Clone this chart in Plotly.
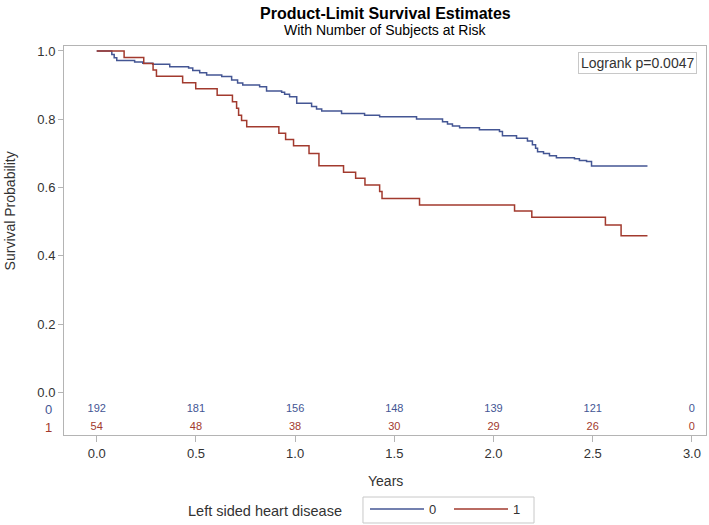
import plotly.graph_objects as go

# ---- data ----
group_names = ["0", "1"]
blue_t = [0, 0.076, 0.088, 0.101, 0.191, 0.232, 0.282, 0.368, 0.463, 0.484, 0.519, 0.554, 0.630, 0.680,
          0.710, 0.736, 0.821, 0.856, 0.932, 0.947, 0.972, 1.008, 1.083, 1.108, 1.134, 1.234, 1.350, 1.426,
          1.612, 1.743, 1.768, 1.793, 1.829, 1.929, 2.030, 2.045, 2.116, 2.171, 2.196, 2.212, 2.222, 2.252,
          2.282, 2.317, 2.408, 2.433, 2.469, 2.494, 2.776]
blue_s = [1.0, 0.990, 0.980, 0.972, 0.968, 0.964, 0.961, 0.954, 0.950, 0.943, 0.936, 0.930, 0.925, 0.915,
          0.906, 0.900, 0.895, 0.883, 0.879, 0.873, 0.866, 0.847, 0.837, 0.830, 0.824, 0.817, 0.812, 0.807,
          0.801, 0.793, 0.786, 0.780, 0.775, 0.769, 0.764, 0.752, 0.744, 0.736, 0.725, 0.715, 0.705, 0.700,
          0.693, 0.687, 0.684, 0.679, 0.676, 0.663, 0.663]
red_t = [0, 0.138, 0.237, 0.284, 0.301, 0.433, 0.499, 0.607, 0.684, 0.705, 0.715, 0.730, 0.756, 0.918,
         0.952, 0.992, 1.070, 1.120, 1.244, 1.305, 1.352, 1.426, 1.438, 1.627, 2.106, 2.193, 2.564, 2.643, 2.776]
red_s = [1.0, 0.981, 0.963, 0.944, 0.926, 0.907, 0.889, 0.870, 0.851, 0.832, 0.812, 0.796, 0.778, 0.759,
         0.741, 0.722, 0.700, 0.664, 0.645, 0.627, 0.607, 0.588, 0.568, 0.549, 0.531, 0.513, 0.490, 0.459, 0.459]
risk_times = [0, 0.5, 1.0, 1.5, 2.0, 2.5, 3.0]
risk_0 = [192, 181, 156, 148, 139, 121, 0]
risk_1 = [54, 48, 38, 30, 29, 26, 0]
x_ticks = [0, 0.5, 1.0, 1.5, 2.0, 2.5, 3.0]
y_ticks = [0, 0.2, 0.4, 0.6, 0.8, 1.0]

BLUE = "#445694"
RED = "#A23A2E"
FONT = "Liberation Sans, Arial, sans-serif"
TXT = "#333333"
GRID = "#b4b4b4"

fig = go.Figure()
fig.add_trace(go.Scatter(x=blue_t, y=blue_s, mode="lines", line=dict(color=BLUE, width=1.5, shape="hv"),
                         name=group_names[0]))
fig.add_trace(go.Scatter(x=red_t, y=red_s, mode="lines", line=dict(color=RED, width=1.5, shape="hv"),
                         name=group_names[1]))

# at-risk rows
fig.add_trace(go.Scatter(x=risk_times, y=[-0.049] * len(risk_times), mode="text",
                         text=[str(v) for v in risk_0], textfont=dict(color=BLUE, size=11, family=FONT),
                         showlegend=False, hoverinfo="skip", cliponaxis=False))
fig.add_trace(go.Scatter(x=risk_times, y=[-0.102] * len(risk_times), mode="text",
                         text=[str(v) for v in risk_1], textfont=dict(color=RED, size=11, family=FONT),
                         showlegend=False, hoverinfo="skip", cliponaxis=False))

annotations = [
    dict(text="<b>Product-Limit Survival Estimates</b>", xref="paper", yref="paper", x=0.5, y=1.0848,
         xanchor="center", yanchor="middle", showarrow=False, font=dict(size=16, color="black", family=FONT)),
    dict(text="With Number of Subjects at Risk", xref="paper", yref="paper", x=0.5, y=1.0411,
         xanchor="center", yanchor="middle", showarrow=False, font=dict(size=14, color="black", family=FONT)),
    dict(text="Survival Probability", xref="paper", yref="y", x=0, y=0.53, xshift=-54, textangle=-90,
         xanchor="center", yanchor="middle", showarrow=False, font=dict(size=14, color=TXT, family=FONT)),
    dict(text="Years", xref="paper", yref="paper", x=0.5, y=-0.1183,
         xanchor="center", yanchor="middle", showarrow=False, font=dict(size=14, color=TXT, family=FONT)),
    dict(text="Logrank p=0.0047", xref="paper", yref="paper", x=1, y=1, xshift=-9, yshift=-6,
         xanchor="right", yanchor="top", showarrow=False, bordercolor="#c8c8c8", borderwidth=1, borderpad=2,
         bgcolor="white", font=dict(size=14, color=TXT, family=FONT)),
    dict(text=group_names[0], xref="paper", yref="y", x=0, y=-0.049, xshift=-16, xanchor="center",
         yanchor="middle", showarrow=False, font=dict(size=13, color=BLUE, family=FONT)),
    dict(text=group_names[1], xref="paper", yref="y", x=0, y=-0.102, xshift=-16, xanchor="center",
         yanchor="middle", showarrow=False, font=dict(size=13, color=RED, family=FONT)),
    dict(text="Left sided heart disease", xref="paper", yref="paper", x=0.3128, y=-0.1954,
         xanchor="center", yanchor="middle", showarrow=False, font=dict(size=14.5, color=TXT, family=FONT)),
]

# frame around the legend entries
shapes = [
    dict(type="rect", xref="paper", yref="paper", x0=0.4657, x1=0.7321, y0=-0.2262, y1=-0.1594,
         line=dict(color="#c8c8c8", width=1), fillcolor="rgba(0,0,0,0)", layer="below"),
]

fig.update_layout(
    width=709, height=525,
    margin=dict(l=64, r=3, t=46, b=90),
    paper_bgcolor="white", plot_bgcolor="white",
    font=dict(family=FONT, color=TXT),
    annotations=annotations,
    shapes=shapes,
    showlegend=True,
    legend=dict(orientation="h", xref="container", yref="container", x=365 / 709, xanchor="left",
                y=1 - 494 / 525, yanchor="top",
                borderwidth=0, font=dict(size=13, color=TXT, family=FONT),
                itemwidth=54, entrywidth=15, bgcolor="rgba(0,0,0,0)"),
)
fig.update_xaxes(range=[-0.165, 3.071], tickvals=x_ticks, ticktext=[f"{v:.1f}" for v in x_ticks],
                 ticks="outside", ticklen=6, tickcolor=GRID, showline=True, linecolor=GRID, mirror=True,
                 showgrid=False, zeroline=False, tickfont=dict(size=13, color=TXT), automargin=False)
fig.update_yaxes(range=[-0.1251, 1.0146], tickvals=y_ticks, ticktext=[f"{v:.1f}" for v in y_ticks],
                 ticks="outside", ticklen=5, tickcolor=GRID, showline=True, linecolor=GRID, mirror=True,
                 showgrid=False, zeroline=False, tickfont=dict(size=13, color=TXT), automargin=False)

# remove the default 8px page margin so the figure sits at the window's top-left corner
fig.write_html("out.html", config={"displayModeBar": False},
               post_script="document.body.style.margin='0px';")
